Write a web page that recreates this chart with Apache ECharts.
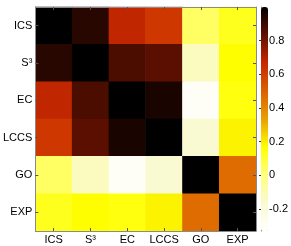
<!DOCTYPE html>
<html><head><meta charset="utf-8">
<script src="https://cdn.jsdelivr.net/npm/echarts@6/dist/echarts.min.js"></script>
<style>html,body{margin:0;padding:0;background:#fff}#c{width:291px;height:246px}</style>
</head><body><div id="c"></div>
<script>
const categories = ['ICS', 'S³', 'EC', 'LCCS', 'GO', 'EXP'];
const rowICS  = [1.00, 0.93, 0.68, 0.62, 0.04, 0.13];
const rowS3   = [0.93, 1.00, 0.87, 0.845, -0.13, 0.17];
const rowEC   = [0.68, 0.87, 1.00, 0.955, -0.30, 0.15];
const rowLCCS = [0.62, 0.845, 0.955, 1.00, -0.17, 0.19];
const rowGO   = [0.04, -0.13, -0.30, -0.17, 1.00, 0.47];
const rowEXP  = [0.13, 0.17, 0.15, 0.19, 0.47, 1.00];
const colorTicks = [-0.2, 0, 0.2, 0.4, 0.6, 0.8];
const colorMin = -0.33, colorMax = 1.0;

const rows = [rowICS, rowS3, rowEC, rowLCCS, rowGO, rowEXP];
const data = [];
rows.forEach((r, yi) => r.forEach((v, xi) => data.push([xi, yi, v])));

const font = "'Liberation Sans', Arial, sans-serif";
const gray = '#8a8a8a';
const tick = {show: true, inside: true, length: 3, alignWithLabel: true, interval: 0, lineStyle: {color: '#555'}};

const chart = echarts.init(document.getElementById('c'));
chart.setOption({
  animation: false,
  grid: [
    {left: 32, top: 7, width: 224, height: 224},
    {left: 261, top: 7, width: 7, height: 224}
  ],
  xAxis: [
    {type: 'category', gridIndex: 0, data: categories, position: 'bottom',
     axisLine: {lineStyle: {color: gray}}, axisTick: tick,
     axisLabel: {fontSize: 11, color: '#000', fontFamily: font, margin: 3, interval: 0},
     splitLine: {show: false}, z: 10},
    {type: 'category', gridIndex: 0, data: categories, position: 'top',
     axisLine: {lineStyle: {color: gray}}, axisTick: tick,
     axisLabel: {show: false}, z: 10},
    {type: 'value', gridIndex: 1, show: false, min: 0, max: 1}
  ],
  yAxis: [
    {type: 'category', gridIndex: 0, data: categories, inverse: true, position: 'left',
     axisLine: {lineStyle: {color: gray}}, axisTick: tick,
     axisLabel: {fontSize: 11, color: '#000', fontFamily: font, margin: 3, interval: 0}, z: 10},
    {type: 'category', gridIndex: 0, data: categories, inverse: true, position: 'right',
     axisLine: {lineStyle: {color: gray}}, axisTick: tick,
     axisLabel: {show: false}, z: 10},
    {type: 'value', gridIndex: 1, min: colorMin, max: colorMax, position: 'right',
     axisLine: {show: true, lineStyle: {color: gray}},
     axisTick: {show: true, inside: true, length: 2, lineStyle: {color: '#333'}, customValues: colorTicks},
     axisLabel: {fontSize: 11, color: '#000', fontFamily: font, margin: 2, customValues: colorTicks,
                 formatter: v => String(Math.round(v * 10) / 10)},
     splitLine: {show: false}}
  ],
  visualMap: {
    type: 'continuous', min: colorMin, max: colorMax, calculable: false,
    seriesIndex: 0, orient: 'vertical', left: 261, top: 7, padding: 0,
    itemWidth: 7, itemHeight: 224, showLabel: false, text: ['', ''],
    inRange: {color: ['#ffffff', '#fafad0', '#ffff80', '#ffff00', '#e8a000', '#dc6000', '#c82800', '#601000', '#000000']}
  },
  series: [
    {type: 'heatmap', xAxisIndex: 0, yAxisIndex: 0, data: data, itemStyle: {borderWidth: 0}},
    {type: 'scatter', xAxisIndex: 2, yAxisIndex: 2, data: []}
  ]
});
</script></body></html>
